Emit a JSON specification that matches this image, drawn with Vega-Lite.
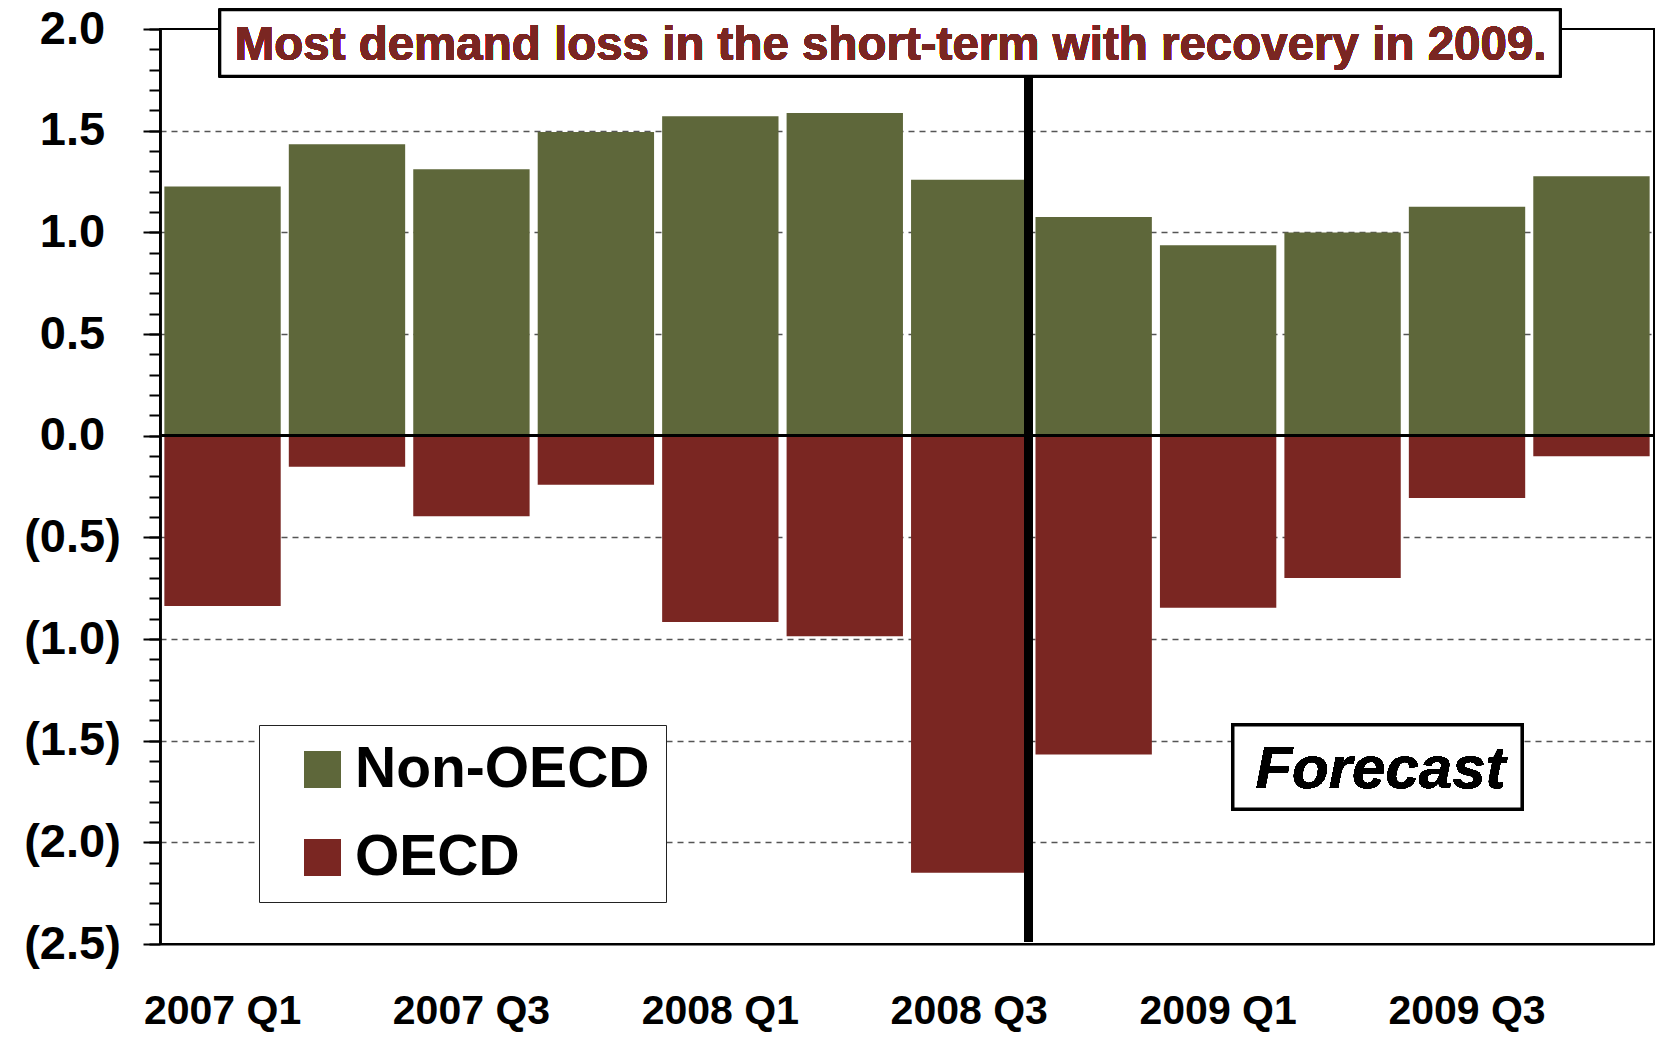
{
  "$schema": "https://vega.github.io/schema/vega-lite/v6.json",
  "width": 1494,
  "height": 915,
  "autosize": {"type": "none"},
  "padding": {"left": 160, "top": 29, "right": 8, "bottom": 95},
  "background": "white",
  "config": {
    "view": {"stroke": "black", "strokeWidth": 2},
    "font": "Liberation Sans",
    "legend": {
      "orient": "none",
      "legendX": 99,
      "legendY": 696,
      "direction": "vertical",
      "symbolType": "square",
      "symbolSize": 1369,
      "symbolStrokeWidth": 0,
      "labelFontSize": 57,
      "labelFont": "Liberation Sans",
      "labelFontWeight": "bold",
      "labelColor": "black",
      "labelLimit": 600,
      "fillColor": "white",
      "strokeColor": "#222222",
      "padding": 16,
      "rowPadding": 30,
      "labelOffset": 4,
      "symbolOffset": 19
    }
  },
  "data": {
    "values": [
      {"quarter": "2007 Q1", "region": "Non-OECD", "value": 1.225},
      {"quarter": "2007 Q1", "region": "OECD", "value": -0.838},
      {"quarter": "2007 Q2", "region": "Non-OECD", "value": 1.433},
      {"quarter": "2007 Q2", "region": "OECD", "value": -0.153},
      {"quarter": "2007 Q3", "region": "Non-OECD", "value": 1.310},
      {"quarter": "2007 Q3", "region": "OECD", "value": -0.396},
      {"quarter": "2007 Q4", "region": "Non-OECD", "value": 1.494},
      {"quarter": "2007 Q4", "region": "OECD", "value": -0.241},
      {"quarter": "2008 Q1", "region": "Non-OECD", "value": 1.571},
      {"quarter": "2008 Q1", "region": "OECD", "value": -0.917},
      {"quarter": "2008 Q2", "region": "Non-OECD", "value": 1.587},
      {"quarter": "2008 Q2", "region": "OECD", "value": -0.986},
      {"quarter": "2008 Q3", "region": "Non-OECD", "value": 1.259},
      {"quarter": "2008 Q3", "region": "OECD", "value": -2.150},
      {"quarter": "2008 Q4", "region": "Non-OECD", "value": 1.076},
      {"quarter": "2008 Q4", "region": "OECD", "value": -1.568},
      {"quarter": "2009 Q1", "region": "Non-OECD", "value": 0.937},
      {"quarter": "2009 Q1", "region": "OECD", "value": -0.846},
      {"quarter": "2009 Q2", "region": "Non-OECD", "value": 0.999},
      {"quarter": "2009 Q2", "region": "OECD", "value": -0.700},
      {"quarter": "2009 Q3", "region": "Non-OECD", "value": 1.126},
      {"quarter": "2009 Q3", "region": "OECD", "value": -0.307},
      {"quarter": "2009 Q4", "region": "Non-OECD", "value": 1.276},
      {"quarter": "2009 Q4", "region": "OECD", "value": -0.101}
    ]
  },
  "resolve": {"scale": {"x": "independent"}, "axis": {"y": "independent", "x": "independent"}},
  "layer": [
    {
      "mark": {"type": "bar"},
      "encoding": {
        "x": {
          "field": "quarter",
          "type": "ordinal",
          "sort": null,
          "scale": {"paddingInner": 0.065, "paddingOuter": 0.035},
          "axis": {
            "title": null,
            "values": ["2007 Q1", "2007 Q3", "2008 Q1", "2008 Q3", "2009 Q1", "2009 Q3"],
            "labelAngle": 0,
            "ticks": false,
            "tickSize": 0,
            "labelPadding": 47,
            "labelFontSize": 41,
            "labelFontWeight": "bold",
            "labelColor": "black",
            "labelFont": "Liberation Sans",
            "domainColor": "black",
            "domainWidth": 2
          }
        },
        "y": {
          "field": "value",
          "type": "quantitative",
          "stack": null,
          "scale": {"domain": [-2.5, 2.0], "nice": false, "zero": false},
          "axis": {
            "orient": "left",
            "title": null,
            "values": [2.0, 1.5, 1.0, 0.5, 0.0, -0.5, -1.0, -1.5, -2.0, -2.5],
            "labelExpr": "datum.value < 0 ? '(' + format(-datum.value, '.1f') + ')' : format(datum.value, '.1f')",
            "labelAlign": "center",
            "labelBaseline": "middle",
            "labelPadding": 71,
            "labelFontSize": 47,
            "labelFontWeight": "bold",
            "labelColor": "black",
            "labelFont": "Liberation Sans",
            "tickSize": 17,
            "tickWidth": 2,
            "tickColor": "black",
            "domainColor": "black",
            "domainWidth": 2.5,
            "grid": true,
            "gridColor": "#555555",
            "gridDash": [6, 5],
            "gridWidth": 1.3,
            "gridOpacity": {"condition": {"test": "datum.value == 0 || datum.value == 2 || datum.value == -2.5", "value": 0}, "value": 1}
          }
        },
        "color": {
          "field": "region",
          "type": "nominal",
          "scale": {"domain": ["Non-OECD", "OECD"], "range": ["#5E673A", "#7A2622"]},
          "legend": {"title": null}
        }
      }
    },
    {
      "mark": {"type": "rule", "color": "black", "strokeWidth": 2},
      "encoding": {
        "y": {
          "datum": 0,
          "type": "quantitative",
          "scale": {"domain": [-2.5, 2.0], "nice": false, "zero": false},
          "axis": {
            "orient": "left",
            "title": null,
            "values": [2.0, 1.9, 1.8, 1.7, 1.6, 1.5, 1.4, 1.3, 1.2, 1.1, 1.0, 0.9, 0.8, 0.7, 0.6, 0.5, 0.4, 0.3, 0.2, 0.1, 0.0, -0.1, -0.2, -0.3, -0.4, -0.5, -0.6, -0.7, -0.8, -0.9, -1.0, -1.1, -1.2, -1.3, -1.4, -1.5, -1.6, -1.7, -1.8, -1.9, -2.0, -2.1, -2.2, -2.3, -2.4, -2.5],
            "labels": false,
            "grid": false,
            "tickSize": 11,
            "tickWidth": 2,
            "tickColor": "black",
            "domainColor": "black",
            "domainWidth": 2.5
          }
        }
      }
    },
    {
      "mark": {"type": "rule", "color": "black", "strokeWidth": 8},
      "encoding": {
        "x": {"datum": 0.5813, "type": "quantitative", "scale": {"domain": [0, 1], "nice": false, "zero": false}, "axis": null},
        "y": {"datum": 2.0, "type": "quantitative", "scale": {"domain": [-2.5, 2.0], "nice": false, "zero": false}, "axis": null},
        "y2": {"datum": -2.49}
      }
    },
    {
      "mark": {"type": "rect", "fill": "white", "stroke": "black", "strokeWidth": 2.5},
      "encoding": {
        "x": {"datum": 0.0402, "type": "quantitative", "scale": {"domain": [0, 1], "nice": false, "zero": false}, "axis": null},
        "x2": {"datum": 0.9371},
        "y": {"datum": 2.0935, "type": "quantitative", "scale": {"domain": [-2.5, 2.0], "nice": false, "zero": false}, "axis": null},
        "y2": {"datum": 1.7688}
      }
    },
    {
      "mark": {"type": "text", "text": "Most demand loss in the short-term with recovery in 2009.", "font": "Liberation Sans", "fontSize": 47.5, "fontWeight": "bold", "color": "#7A2622", "align": "center", "baseline": "alphabetic"},
      "encoding": {
        "x": {"datum": 0.489, "type": "quantitative", "scale": {"domain": [0, 1], "nice": false, "zero": false}, "axis": null},
        "y": {"datum": 1.8475, "type": "quantitative", "scale": {"domain": [-2.5, 2.0], "nice": false, "zero": false}, "axis": null}
      }
    },
    {
      "mark": {"type": "rect", "fill": "white", "stroke": "black", "strokeWidth": 3},
      "encoding": {
        "x": {"datum": 0.7182, "type": "quantitative", "scale": {"domain": [0, 1], "nice": false, "zero": false}, "axis": null},
        "x2": {"datum": 0.9116},
        "y": {"datum": -1.423, "type": "quantitative", "scale": {"domain": [-2.5, 2.0], "nice": false, "zero": false}, "axis": null},
        "y2": {"datum": -1.836}
      }
    },
    {
      "mark": {"type": "text", "text": "Forecast", "font": "Liberation Sans", "fontSize": 60, "fontWeight": "bold", "fontStyle": "italic", "color": "black", "align": "center", "baseline": "alphabetic"},
      "encoding": {
        "x": {"datum": 0.8169, "type": "quantitative", "scale": {"domain": [0, 1], "nice": false, "zero": false}, "axis": null},
        "y": {"datum": -1.734, "type": "quantitative", "scale": {"domain": [-2.5, 2.0], "nice": false, "zero": false}, "axis": null}
      }
    }
  ]
}
